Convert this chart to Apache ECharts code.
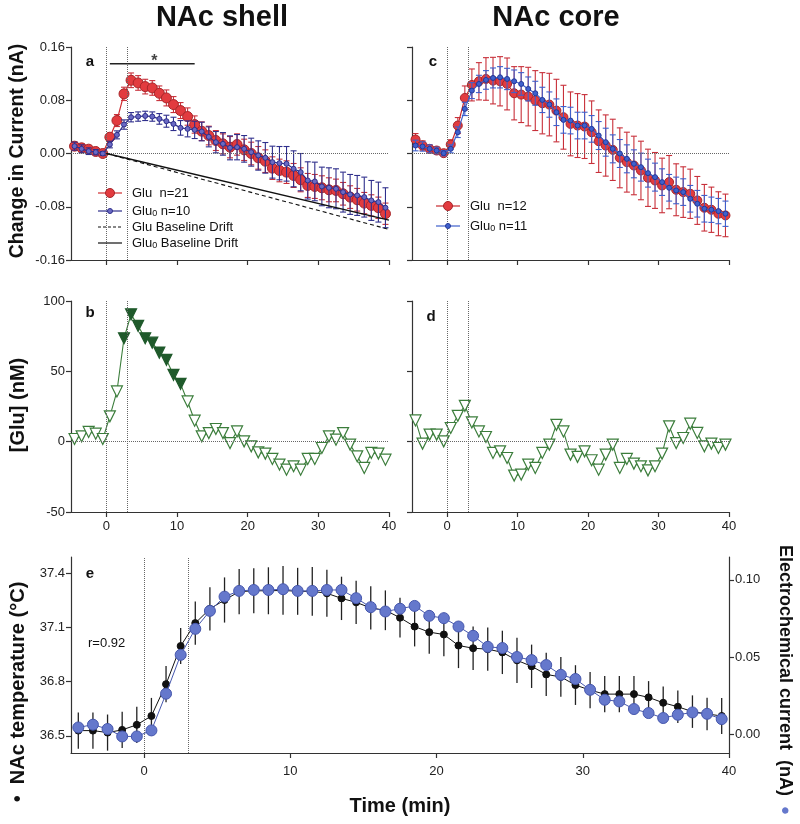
<!DOCTYPE html>
<html><head><meta charset="utf-8">
<script src="https://cdn.jsdelivr.net/npm/echarts@6/dist/echarts.min.js"></script>
<style>html,body{margin:0;padding:0;background:#fff}#c{width:800px;height:824px}</style>
</head><body><div id="c"></div>
<script>
// ---------------- data ----------------
const times = [-4.5,-3.5,-2.5,-1.5,-0.5,0.5,1.5,2.5,3.5,4.5,5.5,6.5,7.5,8.5,9.5,10.5,11.5,12.5,13.5,14.5,15.5,16.5,17.5,18.5,19.5,20.5,21.5,22.5,23.5,24.5,25.5,26.5,27.5,28.5,29.5,30.5,31.5,32.5,33.5,34.5,35.5,36.5,37.5,38.5,39.5];
const xTicks = [0,10,20,30,40];
const refTimes = [0,3];

// panel a : NAc shell current (nA)
const shellGlu = [0.011,0.0085,0.0065,0.003,0.0,0.0245,0.0495,0.0896,0.110,0.106,0.1005,0.0985,0.0905,0.0835,0.0735,0.0645,0.0555,0.0435,0.0335,0.027,0.0195,0.0145,0.0095,0.0135,0.0055,0.0,-0.0065,-0.0115,-0.022,-0.0255,-0.028,-0.033,-0.0395,-0.048,-0.0495,-0.0515,-0.0545,-0.0555,-0.0605,-0.0655,-0.0695,-0.0745,-0.078,-0.0815,-0.0905];
const shellGluErr = [0.006,0.006,0.005,0.004,0.003,0.006,0.009,0.010,0.011,0.011,0.011,0.011,0.011,0.012,0.012,0.012,0.013,0.013,0.014,0.014,0.015,0.015,0.016,0.016,0.016,0.017,0.017,0.017,0.017,0.017,0.017,0.018,0.018,0.018,0.018,0.018,0.018,0.017,0.017,0.017,0.017,0.016,0.016,0.016,0.016];
const shellGlu0 = [0.011,0.007,0.0035,0.002,0.0,0.0135,0.028,0.0435,0.0545,0.0555,0.0565,0.0555,0.052,0.0485,0.0445,0.0385,0.037,0.0355,0.033,0.025,0.017,0.0145,0.0085,0.0095,0.007,0.002,-0.003,-0.0065,-0.013,-0.0145,-0.0155,-0.023,-0.028,-0.0405,-0.042,-0.0495,-0.0515,-0.053,-0.058,-0.0615,-0.063,-0.0655,-0.0705,-0.073,-0.0815];
const shellGlu0Err = [0.006,0.006,0.005,0.004,0.003,0.005,0.006,0.007,0.007,0.007,0.007,0.007,0.008,0.009,0.010,0.011,0.012,0.013,0.014,0.015,0.016,0.017,0.018,0.019,0.020,0.021,0.022,0.023,0.024,0.025,0.026,0.027,0.028,0.028,0.029,0.029,0.030,0.030,0.030,0.030,0.030,0.030,0.030,0.030,0.030];
const driftTimes = [0,40];
const driftGlu = [0,-0.114];
const driftGlu0 = [0,-0.100];
const sigBarTimes = [0.5,12.5];
const sigBarLevel = 0.135;
const sigStarTime = 6.8;

// panel c : NAc core current (nA)
const coreGlu = [0.021,0.012,0.007,0.0045,0.0005,0.0135,0.042,0.0835,0.103,0.1085,0.112,0.1095,0.1085,0.1045,0.0905,0.0885,0.0855,0.0795,0.0755,0.0735,0.0645,0.0545,0.0445,0.042,0.0405,0.032,0.0185,0.012,0.0055,-0.0065,-0.013,-0.018,-0.0255,-0.0365,-0.0405,-0.048,-0.043,-0.0545,-0.058,-0.0605,-0.0705,-0.0815,-0.0845,-0.0905,-0.093];
const coreGluErr = [0.009,0.007,0.006,0.005,0.004,0.007,0.012,0.018,0.024,0.028,0.032,0.035,0.037,0.039,0.040,0.042,0.044,0.045,0.046,0.047,0.047,0.048,0.048,0.048,0.048,0.047,0.047,0.046,0.046,0.045,0.045,0.044,0.044,0.043,0.042,0.041,0.040,0.039,0.038,0.037,0.036,0.035,0.034,0.033,0.032];
const coreGlu0 = [0.012,0.0105,0.007,0.0045,0.0005,0.007,0.032,0.067,0.0945,0.1045,0.1105,0.1135,0.1145,0.112,0.1085,0.1045,0.097,0.0905,0.0805,0.0735,0.062,0.0505,0.0495,0.042,0.042,0.037,0.027,0.017,0.007,0.0,-0.008,-0.0155,-0.0205,-0.0295,-0.0355,-0.043,-0.0515,-0.0555,-0.058,-0.068,-0.0755,-0.083,-0.0845,-0.0865,-0.0905];
const coreGlu0Err = [0.008,0.007,0.006,0.005,0.004,0.006,0.008,0.010,0.012,0.013,0.014,0.015,0.016,0.016,0.017,0.017,0.018,0.018,0.019,0.019,0.020,0.020,0.020,0.020,0.020,0.020,0.021,0.021,0.021,0.021,0.021,0.021,0.021,0.021,0.021,0.020,0.020,0.020,0.020,0.020,0.020,0.020,0.019,0.019,0.019];

// panel b / d : [Glu] (nM)
const shellConc = [1.9,3.8,6.9,5.7,1.9,18,35.7,73.5,90.5,82.3,73.5,70.4,63.3,58.2,47.5,41.1,28.6,14.9,3.8,6.1,9,6.1,-1,7.3,0.2,-3.3,-7.6,-8.5,-12.3,-16.3,-19.9,-17.5,-19.9,-12.3,-12.3,-4.5,3.8,1.4,6.1,-2.1,-10.4,-18.7,-8,-8.5,-12.8];
const shellSigTimes = [2.5,3.5,4.5,5.5,6.5,7.5,8.5,9.5,10.5];
const coreConc = [15.1,-1.4,5,5,0.2,9.7,18.4,25.5,13.7,7.3,3.3,-8,-6.9,-11.6,-24.1,-23.4,-16.3,-18.7,-8,-2.1,12,7.3,-9.2,-10.8,-6.9,-13.2,-19.9,-9.2,-2.1,-18.7,-12.3,-15.6,-17.5,-20.4,-17.5,-8.5,10.9,-1,2.6,12.8,6.2,-3.3,-1.4,-4.5,-2.1];

// panel e : temperature (°C) and electrochemical current (nA)
const temperature = [36.529,36.529,36.518,36.533,36.561,36.61,36.786,36.997,37.124,37.203,37.252,37.298,37.303,37.303,37.305,37.3,37.3,37.289,37.261,37.239,37.208,37.195,37.154,37.105,37.074,37.061,37.0,36.985,36.98,36.962,36.918,36.885,36.84,36.826,36.781,36.753,36.731,36.731,36.731,36.713,36.683,36.661,36.634,36.621,36.61];
const temperatureErr = [0.10,0.10,0.10,0.10,0.10,0.10,0.10,0.10,0.12,0.12,0.125,0.125,0.125,0.13,0.135,0.13,0.135,0.13,0.12,0.12,0.12,0.11,0.11,0.11,0.12,0.12,0.125,0.12,0.12,0.12,0.125,0.12,0.12,0.11,0.11,0.10,0.10,0.10,0.10,0.09,0.09,0.09,0.09,0.09,0.10];
const current = [0.0047,0.0065,0.0037,-0.0011,-0.0011,0.0028,0.0265,0.0516,0.0684,0.080,0.0892,0.0929,0.0935,0.0935,0.094,0.0929,0.0929,0.0935,0.0935,0.0882,0.0824,0.0796,0.0814,0.0832,0.0768,0.0753,0.0699,0.0639,0.0568,0.056,0.0502,0.0482,0.045,0.0387,0.036,0.029,0.0226,0.0215,0.0166,0.014,0.0108,0.0129,0.0144,0.0135,0.0101];
const tempTicks = [36.5,36.8,37.1,37.4];
const currentTicks = [0,0.05,0.10];

// ---------------- styling helpers ----------------
const FONT = '"Liberation Sans", Arial, sans-serif';
const AX = '#333';
function xAx(gi, showLabels, margin){
  return {type:'value', gridIndex:gi, min:-5, max:40,
    axisLine:{show:true,onZero:false,lineStyle:{color:AX,width:1.2}},
    axisTick:{show:true,length:5,customValues:xTicks,lineStyle:{color:AX,width:1.2}},
    axisLabel:{show:showLabels,customValues:xTicks,fontSize:13,fontFamily:FONT,color:'#222',margin:margin||8},
    splitLine:{show:false}};
}
function yAx(gi, min, max, interval, showLabels, fmt){
  return {type:'value', gridIndex:gi, min:min, max:max, interval:interval,
    axisLine:{show:true,onZero:false,lineStyle:{color:AX,width:1.2}},
    axisTick:{show:true,length:5,lineStyle:{color:AX,width:1.2}},
    axisLabel:{show:showLabels,formatter:fmt,fontSize:13,fontFamily:FONT,color:'#222',margin:6},
    splitLine:{show:false}};
}
const refLine = (withZero) => ({silent:true, symbol:['none','none'], label:{show:false},
  lineStyle:{type:'dotted',color:'#666',width:1},
  data: refTimes.map(t=>({xAxis:t})).concat(withZero?[{yAxis:0}]:[])});

function pts(vals){ return times.map((t,i)=>[t, vals[i]]); }
function errBars(xi, yi, vals, errs, color, capW, lw, z){
  return {type:'custom', xAxisIndex:xi, yAxisIndex:yi, z:z, silent:true, clip:true,
    data: times.map((t,i)=>[t, vals[i]-errs[i], vals[i]+errs[i]]),
    encode:{x:0,y:[1,2]},
    renderItem:(p,api)=>{
      const lo = api.coord([api.value(0), api.value(1)]);
      const hi = api.coord([api.value(0), api.value(2)]);
      const st = {stroke:color, lineWidth:lw};
      const ch = [{type:'line',shape:{x1:lo[0],y1:lo[1],x2:hi[0],y2:hi[1]},style:st}];
      if (capW>0){
        ch.push({type:'line',shape:{x1:lo[0]-capW,y1:lo[1],x2:lo[0]+capW,y2:lo[1]},style:st});
        ch.push({type:'line',shape:{x1:hi[0]-capW,y1:hi[1],x2:hi[0]+capW,y2:hi[1]},style:st});
      }
      return {type:'group',children:ch};
    }};
}
function lineS(xi, yi, vals, o){
  return {type:'line', xAxisIndex:xi, yAxisIndex:yi, data:pts(vals), z:o.z, silent:true,
    symbol:o.symbol||'circle', symbolSize:o.size, symbolRotate:o.rot||0,
    itemStyle:{color:o.fill, borderColor:o.stroke, borderWidth:o.bw||1, opacity:1},
    lineStyle:{color:o.line, width:o.lw||1.2}, markLine:o.markLine};
}

const RED='#e23b3f', REDD='#a8262a', REDE='#c8303a';
const NAVY='#2f2f8c', NAVYF='#6a6ac4';
const CBLUE='#3f60cc', CBLUED='#23389a';
const GREEN='#3b7d3b', GREENF='#1f5a2b';
const EBLUE='#6578cc', EBLUED='#4657ad';

// triangles for [Glu]
function triData(vals, sig){
  return times.map((t,i)=>{
    const filled = sig && sig.indexOf(t)>=0;
    return filled ? {value:[t,vals[i]], itemStyle:{color:GREENF,borderColor:GREENF}} : {value:[t,vals[i]]};
  });
}

const series = [
  // panel a
  errBars(0,0,shellGlu,shellGluErr,REDE,3,1.1,2),
  lineS(0,0,shellGlu,{size:10,fill:RED,stroke:REDD,line:'#d02c30',z:3,markLine:refLine(true)}),
  errBars(0,0,shellGlu0,shellGlu0Err,NAVY,3,1.1,4),
  lineS(0,0,shellGlu0,{size:5,fill:NAVYF,stroke:NAVY,line:NAVY,z:5}),
  {type:'line',xAxisIndex:0,yAxisIndex:0,data:driftTimes.map((t,i)=>[t,driftGlu[i]]),symbol:'none',lineStyle:{color:'#111',width:1.1,type:[4,3]},z:6,silent:true},
  {type:'line',xAxisIndex:0,yAxisIndex:0,data:driftTimes.map((t,i)=>[t,driftGlu0[i]]),symbol:'none',lineStyle:{color:'#111',width:1.3},z:6,silent:true},
  {type:'line',xAxisIndex:0,yAxisIndex:0,data:sigBarTimes.map(t=>[t,sigBarLevel]),symbol:'none',lineStyle:{color:'#222',width:1.5},z:6,silent:true},
  {type:'scatter',xAxisIndex:0,yAxisIndex:0,data:[[sigStarTime,sigBarLevel]],symbolSize:0,silent:true,
    label:{show:true,formatter:'*',position:'inside',fontSize:16,fontWeight:'bold',fontFamily:FONT,color:'#111',offset:[0,-2]}},
  // panel c
  errBars(1,1,coreGlu,coreGluErr,REDE,3,1.1,2),
  lineS(1,1,coreGlu,{size:9,fill:RED,stroke:REDD,line:'#c8282d',z:3,markLine:refLine(true)}),
  errBars(1,1,coreGlu0,coreGlu0Err,CBLUE,3,1.1,4),
  lineS(1,1,coreGlu0,{size:5,fill:CBLUE,stroke:CBLUED,line:CBLUE,z:5}),
  // panel b
  {type:'line',xAxisIndex:2,yAxisIndex:2,data:triData(shellConc,shellSigTimes),symbol:'triangle',symbolRotate:180,symbolSize:11,
    itemStyle:{color:'#fff',borderColor:GREEN,borderWidth:1.2},lineStyle:{color:GREEN,width:1.1},z:3,silent:true,markLine:refLine(true)},
  // panel d
  {type:'line',xAxisIndex:3,yAxisIndex:3,data:triData(coreConc,null),symbol:'triangle',symbolRotate:180,symbolSize:11,
    itemStyle:{color:'#fff',borderColor:GREEN,borderWidth:1.2},lineStyle:{color:GREEN,width:1.1},z:3,silent:true,markLine:refLine(true)},
  // panel e
  errBars(4,4,temperature,temperatureErr,'#222',0,1.3,2),
  lineS(4,4,temperature,{size:7,fill:'#111',stroke:'#111',line:'#111',lw:1,z:3,markLine:refLine(false)}),
  lineS(4,5,current,{size:11,fill:EBLUE,stroke:EBLUED,line:EBLUED,lw:1,z:4})
];

// ---------------- text / legend graphics ----------------
const TXT = (x,y,text,o)=>({type:'text',x:x,y:y,rotation:o.rot||0,silent:true,z:50,
  style:{text:text,fill:o.fill||'#111',fontSize:o.size||13,fontWeight:o.weight||'normal',fontFamily:o.family||FONT,
    align:o.align||'center',textAlign:o.align||'center',verticalAlign:'middle',textVerticalAlign:'middle',rich:o.rich}});
const SUB = {sub:{fontSize:9,fontFamily:FONT,fill:'#111',padding:[6,0,0,0]}};
function legendItem(x,y,lineColor,dash,marker,text){
  const g=[{type:'line',silent:true,z:50,shape:{x1:x-12,y1:y,x2:x+12,y2:y},style:{stroke:lineColor,lineWidth:1.2,lineDash:dash||null}}];
  if(marker) g.push({type:'circle',silent:true,z:51,shape:{cx:x,cy:y,r:marker.r},style:{fill:marker.fill,stroke:marker.stroke,lineWidth:1}});
  g.push(TXT(x+22,y,text,{align:'left',rich:SUB}));
  return g;
}
const graphics = [].concat(
  [TXT(222,18,'NAc shell',{size:29,weight:'bold'}),
   TXT(556,18,'NAc core',{size:29,weight:'bold'}),
   TXT(90,62,'a',{size:15,weight:'bold'}),
   TXT(433,62,'c',{size:15,weight:'bold'}),
   TXT(90,313,'b',{size:15,weight:'bold'}),
   TXT(431,317,'d',{size:15,weight:'bold'}),
   TXT(90,574,'e',{size:15,weight:'bold'}),
   TXT(88,643,'r=0.92',{size:13,align:'left'}),
   TXT(18,151,'Change in Current (nA)',{size:19.5,weight:'bold',rot:Math.PI/2}),
   TXT(18,405,'[Glu] (nM)',{size:20,weight:'bold',rot:Math.PI/2}),
   TXT(18,692,'•  NAc temperature (°C)',{size:20,weight:'bold',rot:Math.PI/2}),
   TXT(785,680,'Electrochemical current  (nA)  {dot|●}',{size:18,weight:'bold',rot:-Math.PI/2,rich:{dot:{fill:EBLUE,fontSize:15}}}),
   TXT(400,806,'Time (min)',{size:20,weight:'bold'})],
  legendItem(110,193,'#d02c30',null,{r:4.5,fill:RED,stroke:REDD},'Glu  n=21'),
  legendItem(110,211,NAVY,null,{r:2.5,fill:NAVYF,stroke:NAVY},'Glu{sub|0} n=10'),
  legendItem(110,227,'#111',[3,2],null,'Glu Baseline Drift'),
  legendItem(110,243,'#111',null,null,'Glu{sub|0} Baseline Drift'),
  legendItem(448,206,'#c8282d',null,{r:4.5,fill:RED,stroke:REDD},'Glu  n=12'),
  legendItem(448,226,CBLUE,null,{r:2.5,fill:CBLUE,stroke:CBLUED},'Glu{sub|0} n=11')
);

const f2 = v=>v.toFixed(2);
const option = {
  animation:false,
  backgroundColor:'#fff',
  textStyle:{fontFamily:FONT},
  grid:[
    {left:71,top:47,width:318,height:213},
    {left:412,top:47,width:317,height:213},
    {left:71,top:301,width:318,height:211},
    {left:412,top:301,width:317,height:211},
    {left:71,top:557,width:658,height:196}
  ],
  xAxis:[xAx(0,false),xAx(1,false),xAx(2,true),xAx(3,true),xAx(4,true,12)],
  yAxis:[
    yAx(0,-0.16,0.16,0.08,true,f2),
    yAx(1,-0.16,0.16,0.08,false,f2),
    yAx(2,-50,100,50,true,v=>String(v)),
    yAx(3,-50,100,50,false,v=>String(v)),
    {type:'value',gridIndex:4,min:36.405,max:37.49,
      axisLine:{show:true,onZero:false,lineStyle:{color:AX,width:1.2}},
      axisTick:{show:true,length:5,customValues:tempTicks,lineStyle:{color:AX,width:1.2}},
      axisLabel:{show:true,customValues:tempTicks,formatter:v=>v.toFixed(1),fontSize:13,fontFamily:FONT,color:'#222',margin:6},
      splitLine:{show:false}},
    {type:'value',gridIndex:4,position:'right',min:-0.0118,max:0.1148,
      axisLine:{show:true,onZero:false,lineStyle:{color:AX,width:1.2}},
      axisTick:{show:true,length:5,customValues:currentTicks,lineStyle:{color:AX,width:1.2}},
      axisLabel:{show:true,customValues:currentTicks,formatter:f2,fontSize:13,fontFamily:FONT,color:'#222',margin:6},
      splitLine:{show:false}}
  ],
  series:series,
  graphic:graphics
};
const chart = echarts.init(document.getElementById('c'),null,{renderer:'canvas',width:800,height:824});
chart.setOption(option);
</script>
</body></html>
